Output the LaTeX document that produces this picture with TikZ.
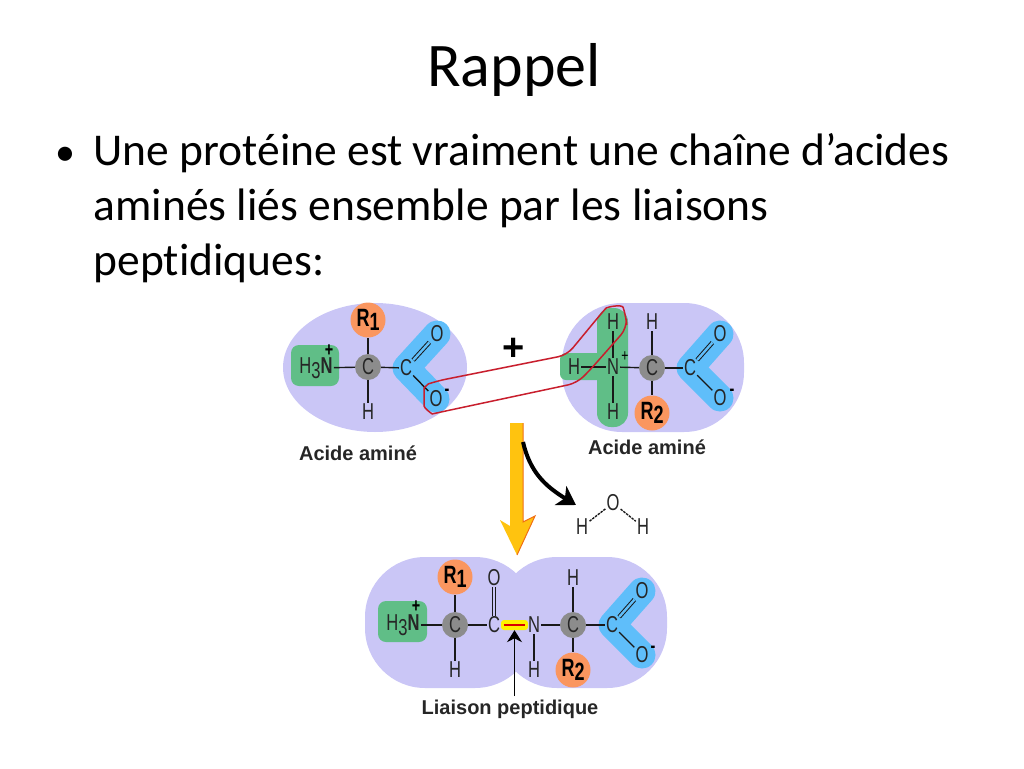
\documentclass[tikz,border=0pt]{standalone}
\usepackage{fontspec}
\setmainfont[Ligatures=NoCommon]{Carlito}
\newfontfamily\atomfont[FakeStretch=0.72]{Liberation Sans}
\newfontfamily\labelfont{Liberation Sans}
\usetikzlibrary{arrows.meta,backgrounds,calc}
\definecolor{blobc}{RGB}{202,198,246}
\definecolor{aminec}{RGB}{96,190,135}
\definecolor{acidc}{RGB}{95,190,250}
\definecolor{sidec}{RGB}{250,150,95}
\definecolor{carbonc}{RGB}{140,140,140}
\definecolor{loopc}{RGB}{200,30,45}
\definecolor{arrowc}{RGB}{255,195,15}
\definecolor{arrowd}{RGB}{240,110,20}
\tikzset{
  atom/.style={font=\atomfont\fontsize{23}{23}\selectfont,inner sep=1pt,text=black!85},
  charge/.style={font=\atomfont\bfseries\fontsize{20}{20}\selectfont,inner sep=0pt},
  calpha/.style={atom,circle,fill=carbonc,minimum size=26pt,inner sep=0pt},
  sidechain/.style={circle,fill=sidec,minimum size=35pt,inner sep=0pt,
    font=\atomfont\bfseries\fontsize{25}{25}\selectfont},
  bond/.style={line width=1.4pt,black!90},
  dbond/.style={line width=1pt,black!90,double=acidc,double distance=2.4pt},
  blob/.style={fill=blobc,rounded corners=60pt},
  amine/.style={fill=aminec,rounded corners=8pt},
  acid/.style={draw=acidc,line width=27pt,line cap=round,line join=round},
  caption/.style={font=\labelfont\bfseries\fontsize{20}{20}\selectfont,text=black!85}
}
\begin{document}
\begin{tikzpicture}[x=1pt,y=-1pt]
   \useasboundingbox (0,0) rectangle (1024,768);
   \node[font=\fontsize{62}{62}\selectfont] (title) at (514,70) {Rappel};
   \node[font=\fontsize{40}{40}\selectfont,anchor=base] (bullet) at (65,165) {•};
   \node[font=\fontsize{45.5}{55}\selectfont,anchor=north west,align=left,inner sep=0pt] (body) at (93.5,133.5)
     {Une protéine est vraiment une chaîne d’acides\\aminés liés ensemble par les liaisons\\peptidiques:};
   % first amino acid
   \node[sidechain] (r_1) at (368,320) {R\raisebox{-4pt}{1}};
   \node[calpha] (c_1) at (368,367) {C};
   \node[atom] (h_1) at (368,412) {H};
   \node[atom] (n_1) at (316,368) {H\raisebox{-5pt}{3}\textbf{N}};
   \node[charge] (p_1) at (329,351) {+};
   \node[atom] (co_1) at (406,368) {C};
   \node[atom] (o_1) at (437,334) {O};
   \node[atom] (om_1) at (436,399) {O};
   \node[charge] (m_1) at (447,392) {-};
   \node[caption] (cap_1) at (358,453) {Acide aminé};
   % second amino acid
   \node[atom] (ha_2) at (613,322) {H};
   \node[atom] (hb_2) at (574,367) {H};
   \node[atom] (hc_2) at (613,412) {H};
   \node[atom] (n_2) at (613,367) {N};
   \node[charge,font=\atomfont\fontsize{17}{17}\selectfont] (p_2) at (625,357) {+};
   \node[calpha] (c_2) at (652,368) {C};
   \node[atom] (h_2) at (652,322) {H};
   \node[sidechain] (r_2) at (652,413) {R\raisebox{-4pt}{2}};
   \node[atom] (co_2) at (690,368) {C};
   \node[atom] (o_2) at (720,334) {O};
   \node[atom] (om_2) at (720,398) {O};
   \node[charge] (m_2) at (732,392) {-};
   \node[caption] (cap_2) at (647,447) {Acide aminé};
   % water
   \node[atom] (o_w) at (613,503) {O};
   \node[atom] (ha_w) at (582,527) {H};
   \node[atom] (hb_w) at (643,527) {H};
   % dipeptide
   \node[sidechain] (r_3) at (455,577) {R\raisebox{-4pt}{1}};
   \node[calpha] (c_3) at (455,625) {C};
   \node[atom] (h_3) at (455,670) {H};
   \node[atom] (n_3) at (403,625) {H\raisebox{-5pt}{3}\textbf{N}};
   \node[charge] (p_3) at (416,607) {+};
   \node[atom] (co_3) at (494,625) {C};
   \node[atom] (ob_3) at (494,578) {O};
   \node[atom] (np_3) at (534,625) {N};
   \node[atom] (hp_3) at (534,670) {H};
   \node[fill=yellow,rounded corners=3pt,minimum width=27pt,minimum height=10pt,inner sep=0pt] (lien) at (514.5,625) {};
   \node[calpha] (c_4) at (573,625) {C};
   \node[atom] (h_4) at (573,578) {H};
   \node[sidechain] (r_4) at (573,670) {R\raisebox{-4pt}{2}};
   \node[atom] (co_4) at (612,625) {C};
   \node[atom] (o_4) at (642,591) {O};
   \node[atom] (om_4) at (642,655) {O};
   \node[charge] (m_4) at (653,649) {-};
   \node[caption] (cap_3) at (510,709) {Liaison peptidique};
   \node[font=\labelfont\bfseries\fontsize{38}{38}\selectfont,inner sep=0pt] (plus) at (514,349) {+};
   \coordinate (drop) at (523,442);
   \coordinate (outw) at (576,505);

   \begin{scope}[on background layer]
     \fill[blobc] (375,367.5) ellipse [x radius=92,y radius=64.5];
     \fill[blob] (562,303) rectangle (744,432);
     \fill[blob] (365,557) rectangle (535,688);
     \fill[blob] (497,557) rectangle (667,688);
     \fill[amine] (291,345) rectangle (339,386);
     \fill[amine] (378,601) rectangle (427,642);
     \fill[aminec,rounded corners=6pt] (560,353) rectangle (610,380);
     \fill[aminec,rounded corners=14pt] (597,308) rectangle (628,427);
     \draw[acid] (o_1.center) -- (co_1.center) -- (om_1.center);
     \draw[acid] (o_2.center) -- (co_2.center) -- (om_2.center);
     \draw[acid] (o_4.center) -- (co_4.center) -- (om_4.center);
   \end{scope}

   \path[bond]
    (n_1) edge (c_1)
    (c_1) edge (r_1)
        edge (h_1)
        edge (co_1)
    (co_1) edge (om_1)
    (hb_2) edge (n_2)
    (n_2) edge (ha_2)
        edge (hc_2)
        edge (c_2)
    (c_2) edge (h_2)
        edge (r_2)
        edge (co_2)
    (co_2) edge (om_2)
    (n_3) edge (c_3)
    (c_3) edge (r_3)
        edge (h_3)
        edge (co_3)
    (np_3) edge (hp_3)
        edge (c_4)
    (c_4) edge (h_4)
        edge (r_4)
        edge (co_4)
    (co_4) edge (om_4);
   \draw[dbond] (co_1) -- (o_1);
   \draw[dbond] (co_2) -- (o_2);
   \draw[dbond] (co_4) -- (o_4);
   \draw[dbond,double=blobc] (co_3) -- (ob_3);
   \path[bond,dash pattern=on 2.5pt off 1pt]
    (o_w) edge (ha_w)
        edge (hb_w);
   \draw[red!85!black,line width=1.6pt] ($(lien.west)+(3,0)$) -- ($(lien.east)+(-3,0)$);
   \draw[line width=1pt,-{Stealth[length=12pt,width=15pt]}] (cap_3.north -| lien) -- (lien.south);

   % yellow reaction arrow
   \fill[arrowc] (510,423) -- (523,423) -- (523,522) -- (535,516) -- (517,555) -- (500,520) -- (510,526) -- cycle;
   \draw[arrowd,line width=1pt] (523,423) -- (523,522) -- (535,516) -- (517,555);
   \draw[line width=4pt,-{Stealth[length=18pt,width=22pt,inset=5pt]}] (drop) .. controls (530,472) and (545,486) .. (outw);

   % condensation loop
   \draw[loopc,line width=1.5pt,rounded corners=9pt]
    (567,355) -- (600,315) .. controls (607,307) and (622,304) .. (626,316) -- (627,328)
    -- (590,370) -- (577,383) -- (441,412) .. controls (432,414) and (424,408) .. (424,397)
    .. controls (424,388) and (428,384) .. (437,381) -- cycle;
\end{tikzpicture}
\end{document}
